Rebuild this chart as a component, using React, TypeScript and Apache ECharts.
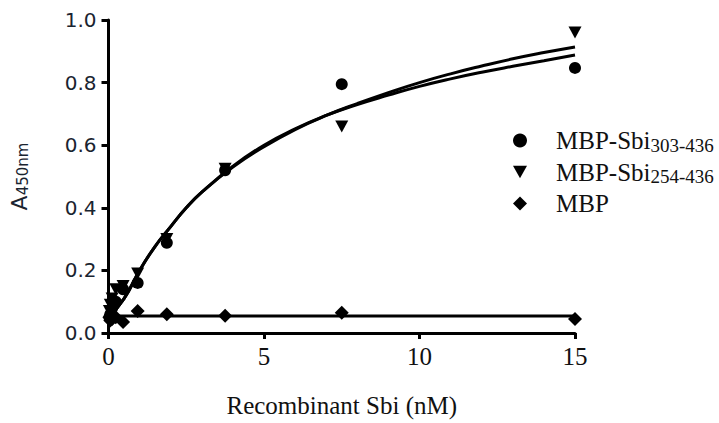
import React, { useEffect, useRef } from "react";
import * as echarts from "echarts";

const concentrations = [15, 7.5, 3.75, 1.875, 0.9375, 0.469, 0.234, 0.117, 0.059, 0.029];
const sbi303 = [0.847, 0.795, 0.52, 0.288, 0.16, 0.14, 0.1, 0.08, 0.06, 0.05];
const sbi254 = [0.96, 0.66, 0.525, 0.3, 0.19, 0.15, 0.14, 0.11, 0.09, 0.07];
const mbp = [0.045, 0.065, 0.055, 0.06, 0.07, 0.035, 0.05, 0.045, 0.04, 0.05];

const fitX = [0, 0.5, 1, 1.5, 2, 2.5, 3, 4, 5, 6, 7, 8, 9, 10, 11, 12, 13, 14, 15];
const fit303 = [0.05, 0.11, 0.2, 0.277, 0.34, 0.4, 0.45, 0.533, 0.6, 0.652, 0.695, 0.73, 0.76, 0.788, 0.812, 0.833, 0.852, 0.87, 0.888];
const fit254 = [0.05, 0.11, 0.2, 0.277, 0.34, 0.4, 0.45, 0.53, 0.595, 0.65, 0.695, 0.733, 0.768, 0.8, 0.828, 0.853, 0.876, 0.896, 0.914];
const mbpFitX = [0, 15];
const mbpFit = [0.054, 0.054];

const xTicks = [0, 5, 10, 15];
const yTicks = [0, 0.2, 0.4, 0.6, 0.8, 1.0];

const seriesNames = ["MBP-Sbi303-436", "MBP-Sbi254-436", "MBP"];

const FONT = "'Liberation Serif', 'Times New Roman', serif";
const SANS = "'DejaVu Sans', Verdana, sans-serif";
const TRI_DOWN = "path://M0,0 L10,0 L5,9 Z";
const DIAMOND = "path://M5,0 L10,5 L5,10 L0,5 Z";

function pairs(xs: number[], ys: number[]) {
  return xs.map((x, i) => [x, ys[i]]);
}

export default function App() {
  const ref = useRef<HTMLDivElement>(null);
  useEffect(() => {
    if (!ref.current) return;
    const chart = echarts.init(ref.current, null, { renderer: "svg" });
    const lineStyle = { color: "#000", width: 3 };
    const markStyle = { color: "#000", opacity: 1 };
    chart.setOption({
      animation: false,
      backgroundColor: "#fff",
      grid: { left: 107, right: 144, top: 20, bottom: 90 },
      xAxis: {
        type: "value",
        min: xTicks[0],
        max: xTicks[xTicks.length - 1],
        interval: 5,
        name: "Recombinant Sbi (nM)",
        nameLocation: "middle",
        nameGap: 60,
        nameTextStyle: { fontFamily: FONT, fontSize: 25, color: "#111" },
        axisLine: { onZero: false, lineStyle: { color: "#000", width: 3 } },
        axisTick: { show: true, length: 6, lineStyle: { color: "#000", width: 3 } },
        axisLabel: { fontFamily: FONT, fontSize: 25, color: "#111", margin: 11 },
        splitLine: { show: false },
      },
      yAxis: {
        type: "value",
        min: yTicks[0],
        max: yTicks[yTicks.length - 1],
        interval: 0.2,
        name: "{a|A}{s|450nm}",
        nameLocation: "middle",
        nameGap: 78,
        nameTextStyle: {
          color: "#1a2430",
          rich: {
            a: { fontFamily: SANS, fontSize: 22, color: "#1a2430" },
            s: { fontFamily: SANS, fontSize: 15, color: "#1a2430", padding: [8, 0, 0, 0] },
          },
        },
        axisLine: { lineStyle: { color: "#000", width: 3 } },
        axisTick: { show: true, length: 7, lineStyle: { color: "#000", width: 3 } },
        axisLabel: {
          fontFamily: SANS,
          fontSize: 20,
          color: "#1a2430",
          margin: 12,
          formatter: (v: number) => v.toFixed(1),
        },
        splitLine: { show: false },
      },
      legend: {
        data: [
          { name: seriesNames[0], icon: "circle" },
          { name: seriesNames[1], icon: TRI_DOWN },
          { name: seriesNames[2], icon: DIAMOND },
        ],
        orient: "vertical",
        left: 508,
        top: 123,
        itemGap: 5,
        itemWidth: 14,
        itemHeight: 14,
        itemStyle: { color: "#000", opacity: 1 },
        textStyle: {
          fontFamily: FONT,
          fontSize: 25,
          color: "#111",
          rich: {
            m: { fontFamily: FONT, fontSize: 25, color: "#111", padding: [0, 0, 0, 24] },
            s: { fontFamily: FONT, fontSize: 19, color: "#111", padding: [9, 0, 0, 0] },
          },
        },
        formatter: (name: string) => {
          const m = name.match(/^(MBP-Sbi)(\d+-\d+)$/);
          if (m) return `{m|${m[1]}}{s|${m[2]}}`;
          return `{m|${name}}`;
        },
      },
      series: [
        {
          name: seriesNames[0],
          type: "scatter",
          data: pairs(concentrations, sbi303),
          symbol: "circle",
          symbolSize: 12,
          itemStyle: markStyle,
          z: 5,
        },
        {
          name: seriesNames[1],
          type: "scatter",
          data: pairs(concentrations, sbi254),
          symbol: TRI_DOWN,
          symbolSize: [13, 12],
          itemStyle: markStyle,
          z: 5,
        },
        {
          name: seriesNames[2],
          type: "scatter",
          data: pairs(concentrations, mbp),
          symbol: DIAMOND,
          symbolSize: 14,
          itemStyle: markStyle,
          z: 5,
        },
        {
          name: "fit303",
          type: "line",
          data: pairs(fitX, fit303),
          smooth: true,
          showSymbol: false,
          symbol: "none",
          lineStyle,
        },
        {
          name: "fit254",
          type: "line",
          data: pairs(fitX, fit254),
          smooth: true,
          showSymbol: false,
          symbol: "none",
          lineStyle,
        },
        {
          name: "fitMBP",
          type: "line",
          data: pairs(mbpFitX, mbpFit),
          showSymbol: false,
          symbol: "none",
          lineStyle,
        },
      ],
    });
    return () => chart.dispose();
  }, []);
  return <div ref={ref} style={{ width: 719, height: 423, position: "absolute", left: 0, top: 0 }} />;
}
